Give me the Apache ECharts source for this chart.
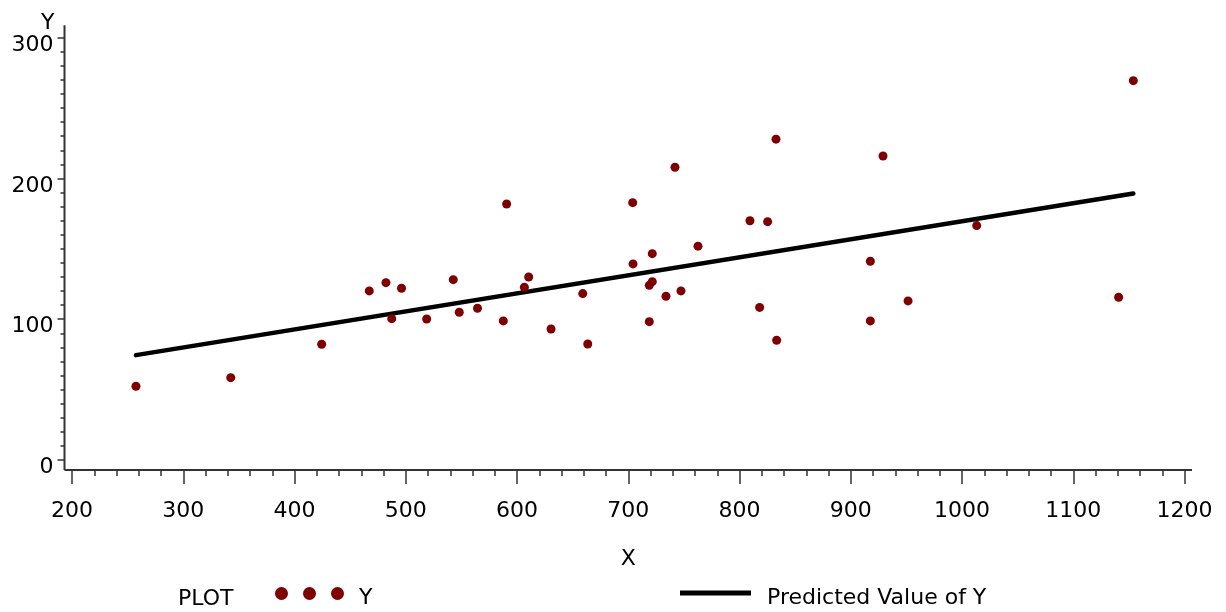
<!DOCTYPE html>
<html>
<head>
<meta charset="utf-8">
<script src="https://cdn.jsdelivr.net/npm/echarts@6/dist/echarts.min.js"></script>
<style>
  html, body { margin: 0; padding: 0; background: #fff; }
  #chart { width: 1226px; height: 612px; }
</style>
</head>
<body>
<div id="chart"></div>
<script>
// observed points (X, Y)
const xValues = [257.5, 342.7, 424.4, 467.2, 482.2, 487.4, 496.2, 518.8, 542.7, 548.1,
  564.5, 587.7, 590.7, 606.6, 610.5, 630.6, 659.1, 663.6, 704.0, 704.3,
  718.9, 718.9, 721.6, 721.6, 733.9, 742.0, 747.4, 762.7, 809.4, 818.1,
  825.3, 832.8, 833.4, 917.6, 917.6, 929.0, 951.5, 1013.2, 1140.8, 1154.0]
const yValues = [52.4, 58.5, 82.2, 120.1, 126.0, 100.4, 122.0, 100.2, 128.1, 105.0,
  107.8, 98.8, 181.9, 122.7, 130.0, 93.1, 118.2, 82.4, 182.8, 139.3,
  98.3, 124.1, 126.7, 146.6, 116.3, 208.0, 120.1, 151.9, 170.0, 108.4,
  169.3, 227.9, 85.1, 141.2, 98.8, 216.0, 113.0, 166.5, 115.6, 269.5]

// regression line ends
const predX = [257.5, 1154.0]
const predY = [74.5, 189.3]

const xTicks = [200, 1200, 100]
const yTicks = [0, 300, 100]

const font = 'DejaVu Sans'
const axisColor = '#333'

const chart = echarts.init(document.getElementById('chart'))

chart.setOption({
  animation: false,
  grid: { left: 72, right: 41.5, top: 37.7, bottom: 152 },
  xAxis: {
    type: 'value',
    min: xTicks[0],
    max: xTicks[1],
    interval: xTicks[2],
    offset: 10,
    name: 'X',
    nameLocation: 'middle',
    nameGap: 78,
    nameTextStyle: { fontFamily: font, fontSize: 22, color: '#000' },
    axisLine: { show: false, onZero: false },
    axisTick: { show: true, inside: false, length: 14, lineStyle: { color: axisColor, width: 1.5 } },
    minorTick: { show: true, splitNumber: 5, length: 6, lineStyle: { color: axisColor, width: 1.5 } },
    splitLine: { show: false },
    axisLabel: { fontFamily: font, fontSize: 22, color: '#000', margin: 30, formatter: v => String(v) }
  },
  yAxis: {
    type: 'value',
    min: yTicks[0],
    max: yTicks[1],
    interval: yTicks[2],
    offset: 7.5,
    name: 'Y',
    nameLocation: 'end',
    nameGap: 3,
    nameTextStyle: { fontFamily: font, fontSize: 22, color: '#000', align: 'right', padding: [0, 10, 0, 0] },
    axisLine: { show: false, onZero: false },
    axisTick: { show: true, inside: false, length: 7, lineStyle: { color: axisColor, width: 1.5 } },
    minorTick: { show: true, splitNumber: 10, length: 4, lineStyle: { color: axisColor, width: 1.5 } },
    splitLine: { show: false },
    axisLabel: { fontFamily: font, fontSize: 22, color: '#000', margin: 11, verticalAlign: 'top', lineHeight: 15 }
  },
  legend: [
    {
      data: ['Y'],
      left: 270,
      top: 582,
      icon: 'path://M0,6.5a6.5,6.5 0 1,0 13,0a6.5,6.5 0 1,0 -13,0M28,6.5a6.5,6.5 0 1,0 13,0a6.5,6.5 0 1,0 -13,0M56,6.5a6.5,6.5 0 1,0 13,0a6.5,6.5 0 1,0 -13,0',
      itemWidth: 69,
      itemHeight: 13,
      selectedMode: false,
      formatter: '{t|{name}}',
      textStyle: { rich: { t: { fontFamily: font, fontSize: 22, color: '#000', padding: [10, 0, 0, 10] } } }
    },
    {
      data: ['Predicted Value of Y'],
      left: 675,
      top: 582,
      icon: 'rect',
      itemWidth: 71,
      itemHeight: 5,
      selectedMode: false,
      formatter: '{t|{name}}',
      textStyle: { rich: { t: { fontFamily: font, fontSize: 22, color: '#000', padding: [10, 0, 0, 11] } } }
    }
  ],
  series: [
    {
      name: 'Y',
      type: 'scatter',
      symbol: 'circle',
      symbolSize: 9,
      itemStyle: { color: '#7f0000', opacity: 1 },
      data: xValues.map((x, i) => [x, yValues[i]]),
      z: 3
    },
    {
      name: 'Predicted Value of Y',
      type: 'line',
      showSymbol: false,
      symbol: 'none',
      lineStyle: { color: '#000', width: 4.5, cap: 'round' },
      itemStyle: { color: '#000' },
      data: predX.map((x, i) => [x, predY[i]]),
      z: 2
    }
  ]
})

// axis lines: SAS draws them a bit past the data range and meeting in a corner
const p0 = chart.convertToPixel({ gridIndex: 0 }, [xTicks[0], yTicks[0]])
const p1 = chart.convertToPixel({ gridIndex: 0 }, [xTicks[1], yTicks[1]])
const ax = p0[0] - 7.5
const ay = p0[1] + 10
chart.setOption({
  graphic: [
    { type: 'line', shape: { x1: ax, y1: ay, x2: p1[0] + 7.5, y2: ay }, style: { stroke: axisColor, lineWidth: 2 } },
    { type: 'line', shape: { x1: ax, y1: ay, x2: ax, y2: p1[1] - 12.5 }, style: { stroke: axisColor, lineWidth: 2 } },
    { type: 'text', left: 178, top: 588, style: { text: 'PLOT', fontFamily: font, fontSize: 22, fill: '#000' } }
  ]
})
</script>
</body>
</html>
